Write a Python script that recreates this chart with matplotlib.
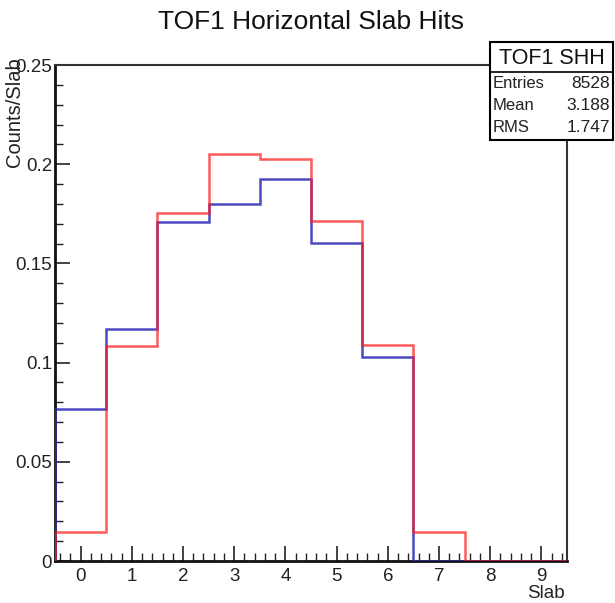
import matplotlib
matplotlib.use("Agg")
import matplotlib.pyplot as plt
from matplotlib.ticker import MultipleLocator, FuncFormatter
from matplotlib.patches import Rectangle
from matplotlib.lines import Line2D
import numpy as np

plt.rcParams['font.family'] = ['Liberation Sans', 'DejaVu Sans']

# Data
slab_edges = [-0.5, 0.5, 1.5, 2.5, 3.5, 4.5, 5.5, 6.5, 7.5, 8.5, 9.5]
blue_counts = [0.0767, 0.1168, 0.1707, 0.1800, 0.1923, 0.1603, 0.1029, 0.0, 0.0, 0.0]
red_counts = [0.0144, 0.1084, 0.1756, 0.2050, 0.2026, 0.1714, 0.1088, 0.0146, 0.0, 0.0]
y_ticks = [0, 0.05, 0.1, 0.15, 0.2, 0.25]
x_ticks = [0, 1, 2, 3, 4, 5, 6, 7, 8, 9]
title = "TOF1 Horizontal Slab Hits"
stats_name = "TOF1 SHH"
stats_labels = ["Entries", "Mean", "RMS"]
stats_values = ["8528", "3.188", "1.747"]

W, H = 615, 603
fig = plt.figure(figsize=(W / 100, H / 100), dpi=100)
ax = fig.add_axes([55 / W, 1 - 561 / H, (567 - 55) / W, (561 - 65) / H])

ax.stairs(blue_counts, slab_edges, baseline=0, color='#2a2ab8', alpha=0.85, lw=1.8, zorder=3)
ax.stairs(red_counts, slab_edges, baseline=0, color='#ff1a1a', alpha=0.72, lw=1.8, zorder=4)

ax.set_xlim(-0.5, 9.5)
ax.set_ylim(0, 0.25)
ax.set_xticks(x_ticks)
ax.set_yticks(y_ticks)
ax.xaxis.set_minor_locator(MultipleLocator(0.2))
ax.yaxis.set_minor_locator(MultipleLocator(0.01))
ax.yaxis.set_major_formatter(FuncFormatter(lambda v, p: "%g" % round(v, 4)))
ax.tick_params(which='major', direction='in', length=11, width=1.2, labelsize=13.5,
               top=False, right=False, pad=2, colors='#222222')
ax.tick_params(which='minor', direction='in', length=5.5, width=1.0, top=False, right=False,
               colors='#222222')
ax.tick_params(axis='x', which='major', pad=5)
for s in ['left', 'bottom']:
    ax.spines[s].set_linewidth(2.0)
    ax.spines[s].set_color('#111111')
for s in ['top', 'right']:
    ax.spines[s].set_linewidth(1.5)
    ax.spines[s].set_color('#333333')

fig.text(311 / W, 1 - 22 / H, title, ha='center', va='center', fontsize=19, color='#111111')
fig.text(15 / W, 1 - 57 / H, "Counts/Slab", rotation=90, ha='center', va='top', fontsize=14.5,
         color='#222222')
fig.text(565 / W, 1 - 594 / H, "Slab", ha='right', va='center', fontsize=13.5, color='#222222')

# Stats box
bx0, bx1, by0, by1 = 490, 613, 42, 140
fig.patches.append(Rectangle((bx0 / W, 1 - by1 / H), (bx1 - bx0) / W, (by1 - by0) / H,
                             transform=fig.transFigure, facecolor='white', edgecolor='black',
                             lw=1.5, zorder=10))
fig.lines.append(Line2D([bx0 / W, bx1 / W], [1 - 72 / H, 1 - 72 / H], transform=fig.transFigure,
                        color='black', lw=1.2, zorder=11))
fig.text((bx0 + bx1) / 2 / W, 1 - 58 / H, stats_name, ha='center', va='center', fontsize=15.5,
         zorder=12, color='#111111')
for i, (lab, val) in enumerate(zip(stats_labels, stats_values)):
    yy = 1 - (83 + 22 * i) / H
    fig.text(493 / W, yy, lab, ha='left', va='center', fontsize=12, zorder=12, color='#222222')
    fig.text(610 / W, yy, val, ha='right', va='center', fontsize=12.5, zorder=12, color='#222222')

fig.savefig("out.png", dpi=100)
